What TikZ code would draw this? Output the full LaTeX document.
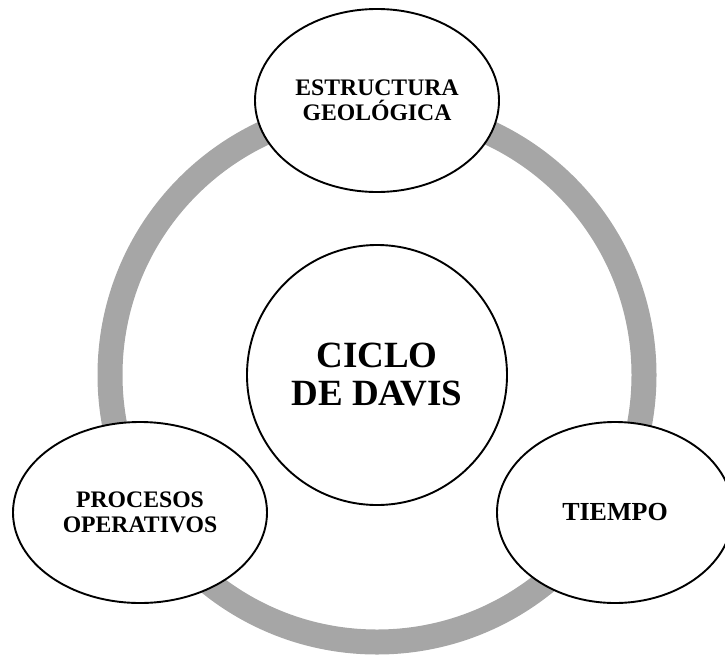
\documentclass[tikz,border=0pt]{standalone}
\usepackage{fontspec}
\setmainfont{Liberation Serif}
\usepackage{tikz}
\usepackage{xcolor}
\usetikzlibrary{shapes.geometric}
\definecolor{ringgray}{RGB}{166,166,166}
\tikzset{
    cycle-ring/.style = {draw=ringgray, line width=25pt},
    cycle-ellipse/.style = {draw=black, fill=white, line width=1.9pt, ellipse, inner sep=0pt, align=center, font=\fontsize{23.7}{25}\selectfont\bfseries},
    cycle-center/.style = {draw=black, fill=white, line width=1.9pt, circle, inner sep=0pt, minimum size=260pt, align=center, font=\fontsize{37}{38}\selectfont\bfseries},
}

\begin{document}
\begin{tikzpicture}[x=1pt,y=-1pt]
\path[use as bounding box, clip] (0,0) rectangle (725,656);
\coordinate (mid) at (377,375);
\draw[cycle-ring] (mid) circle[radius=267];
\node[cycle-center] (davis) at (mid) {CICLO\\DE DAVIS};
\node[cycle-ellipse, minimum width=244pt, minimum height=183pt] (estructura) at (377,100.5) {ESTRUCTURA\\GEOLÓGICA};
\node[cycle-ellipse, minimum width=254pt, minimum height=181pt] (procesos) at (140,512.5) {PROCESOS\\OPERATIVOS};
\node[cycle-ellipse, minimum width=236pt, minimum height=181pt, font=\fontsize{26}{27}\selectfont\bfseries] (tiempo) at (615,512.5) {TIEMPO};
\end{tikzpicture}
\end{document}
